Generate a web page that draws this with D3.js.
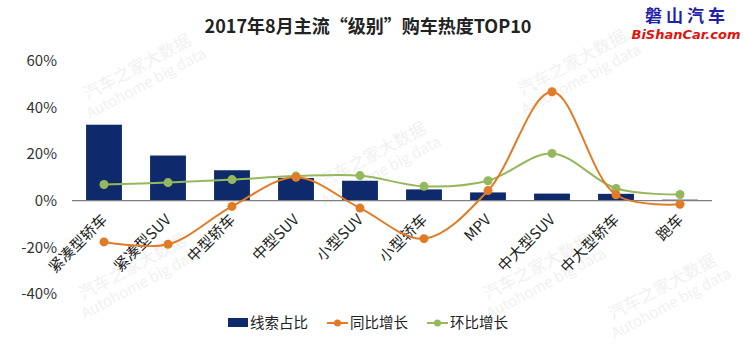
<!DOCTYPE html>
<html>
<head>
<meta charset="utf-8">
<script src="https://cdn.jsdelivr.net/npm/d3@7"></script>
<style>
  body { margin: 0; background: #fff; }
  svg text { font-family: "Noto Sans CJK SC", "Noto Sans", sans-serif; }
</style>
</head>
<body>
<div id="chart"></div>
<script>
// data
var categories = ['紧凑型轿车','紧凑型SUV','中型轿车','中型SUV','小型SUV','小型轿车','MPV','中大型SUV','中大型轿车','跑车'];
var share = [32.5, 19.3, 13.0, 9.7, 8.5, 4.8, 3.5, 3.0, 2.9, 0.4];     // 线索占比
var yoy = [-17.7, -18.7, -2.5, 10.0, -3.2, -16.3, 4.3, 46.6, 2.5, -1.6]; // 同比增长
var mom = [6.9, 7.7, 9.0, 10.5, 10.7, 6.1, 8.5, 20.2, 5.2, 2.6];        // 环比增长
var yTicks = [-40, -20, 0, 20, 40, 60];
var seriesNames = ['线索占比', '同比增长', '环比增长'];

var W = 744, H = 354;
var barColor = '#0f2a6a', orange = '#e27b25', green = '#95b85c';

var svg = d3.select('#chart').append('svg')
  .attr('width', W).attr('height', H);

// watermarks
var marks = [[140, 72], [575, 68], [375, 160], [135, 272], [540, 272], [665, 292]];
var wm = svg.append('g').attr('id', 'watermarks');
marks.forEach(function(p) {
  var g = wm.append('g').attr('transform', 'translate(' + p[0] + ',' + p[1] + ') rotate(-28)');
  g.append('text').attr('text-anchor', 'middle').attr('font-size', 17)
    .attr('fill', '#f1f1f1').text('汽车之家大数据');
  g.append('text').attr('text-anchor', 'middle').attr('y', 18).attr('font-size', 15)
    .attr('fill', '#f1f1f1').text('Autohome big data');
});

var x = d3.scaleBand().domain(categories).range([72, 712]).paddingInner(0.44).paddingOuter(0.22);
var y = d3.scaleLinear().domain([-40, 60]).range([294, 60.5]);

// y axis labels
var yAxis = d3.axisLeft(y).tickValues(yTicks).tickSize(0).tickPadding(0)
  .tickFormat(function(d) { return d + '%'; });
svg.append('g').attr('transform', 'translate(57,0)')
  .call(yAxis)
  .call(function(g) { g.select('.domain').remove(); })
  .selectAll('text')
  .attr('font-size', 15).attr('fill', '#333');

// bars
svg.append('g').selectAll('rect')
  .data(share).enter().append('rect')
  .attr('x', function(d, i) { return x(categories[i]); })
  .attr('width', x.bandwidth())
  .attr('y', function(d) { return y(d); })
  .attr('height', function(d) { return y(0) - y(d); })
  .attr('fill', barColor);

// zero line
svg.append('line')
  .attr('x1', 72).attr('x2', 712)
  .attr('y1', y(0)).attr('y2', y(0))
  .attr('stroke', '#7f7f7f').attr('stroke-width', 1.2);

// x labels
svg.append('g').selectAll('text')
  .data(categories).enter().append('text')
  .attr('transform', function(d) {
    return 'translate(' + (x(d) + x.bandwidth() / 2 + 4) + ',' + (y(0) + 20) + ') rotate(-45)';
  })
  .attr('text-anchor', 'end')
  .attr('font-size', 15)
  .attr('fill', '#222')
  .text(function(d) { return d; });

// lines
var cx = function(i) { return x(categories[i]) + x.bandwidth() / 2; };
var line = d3.line()
  .x(function(d, i) { return cx(i); })
  .y(function(d) { return y(d); })
  .curve(d3.curveCatmullRom.alpha(0.5));

function drawSeries(vals, color) {
  svg.append('path').datum(vals)
    .attr('d', line).attr('fill', 'none')
    .attr('stroke', color).attr('stroke-width', 2);
  svg.append('g').selectAll('circle')
    .data(vals).enter().append('circle')
    .attr('cx', function(d, i) { return cx(i); })
    .attr('cy', function(d) { return y(d); })
    .attr('r', 4.5).attr('fill', color);
}
drawSeries(mom, green);
drawSeries(yoy, orange);

// title
svg.append('text')
  .attr('x', 368).attr('y', 33)
  .attr('text-anchor', 'middle')
  .attr('font-size', 18).attr('font-weight', 'bold')
  .attr('fill', '#222')
  .text('2017年8月主流“级别”购车热度TOP10');

// logo top right
svg.append('text')
  .attr('x', 687).attr('y', 22).attr('text-anchor', 'middle')
  .attr('font-size', 17).attr('font-weight', 'bold').attr('fill', '#1f1fa8')
  .attr('letter-spacing', 4)
  .text('磐山汽车');
svg.append('text')
  .attr('x', 686).attr('y', 39).attr('text-anchor', 'middle')
  .attr('font-size', 13).attr('font-weight', 'bold').attr('font-style', 'italic')
  .attr('fill', '#e0140f')
  .style('font-family', '"DejaVu Sans", sans-serif')
  .text('BiShanCar.com');

// legend
var lg = svg.append('g').attr('transform', 'translate(0,323)');
lg.append('rect').attr('x', 228).attr('y', -5).attr('width', 20).attr('height', 9).attr('fill', barColor);
lg.append('text').attr('x', 250).attr('y', 5).attr('font-size', 14.5).attr('fill', '#222').text(seriesNames[0]);
[[327, orange, seriesNames[1]], [427, green, seriesNames[2]]].forEach(function(s) {
  lg.append('line').attr('x1', s[0]).attr('x2', s[0] + 21).attr('y1', 0).attr('y2', 0)
    .attr('stroke', s[1]).attr('stroke-width', 2);
  lg.append('circle').attr('cx', s[0] + 10.5).attr('cy', 0).attr('r', 3.5).attr('fill', s[1]);
  lg.append('text').attr('x', s[0] + 23).attr('y', 5).attr('font-size', 14.5).attr('fill', '#222').text(s[2]);
});
</script>
</body>
</html>
